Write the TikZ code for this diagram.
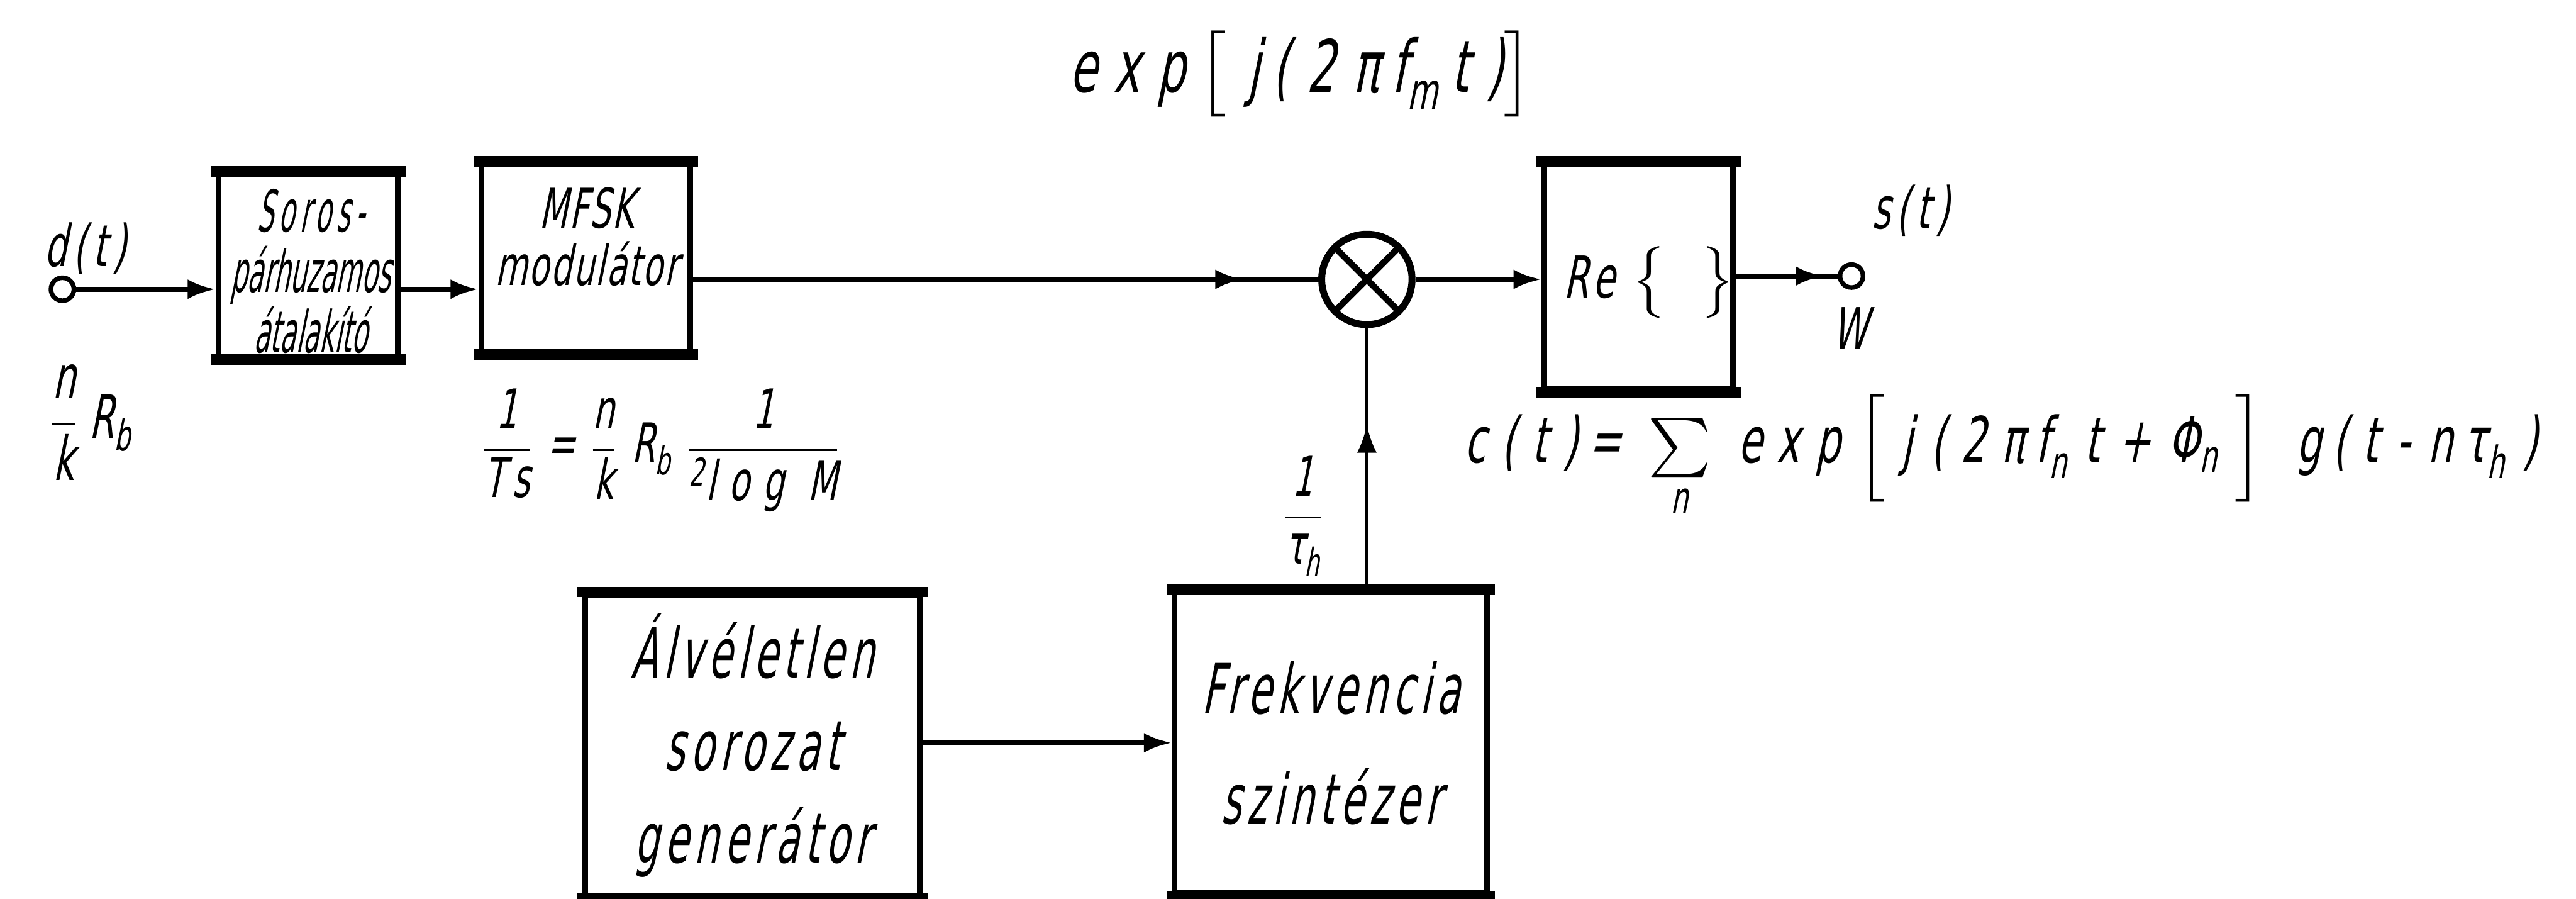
\documentclass[tikz,border=0pt]{standalone}
\usepackage{amsmath}
\usepackage{fontspec}
\setmainfont{DejaVu Sans}[FakeSlant=0.2,FakeStretch=0.6,LetterSpace=3]
\newfontfamily\handA{DejaVu Sans}[FakeSlant=0.2,FakeStretch=0.6,LetterSpace=3]
\newfontfamily\handN{DejaVu Sans}[FakeSlant=0.2,FakeStretch=0.45]
\newfontfamily\handW{DejaVu Sans}[FakeSlant=0.2,FakeStretch=0.62,LetterSpace=10]
\newfontfamily\handB{DejaVu Sans}[FakeSlant=0.2,FakeStretch=0.56,LetterSpace=8]
\newfontfamily\handF{DejaVu Sans}[FakeSlant=0.2,FakeStretch=0.62,LetterSpace=24]
\usetikzlibrary{arrows.meta,decorations.markings}
\begin{document}
\begin{tikzpicture}[x=0.02cm,y=-0.02cm,
  blk/.style={draw, line width=2pt, inner sep=0pt, align=center},
  thickedge/.style={line width=3.6pt, line cap=rect},
  conn/.style={line width=1.8pt},
  thinconn/.style={line width=1.1pt},
  tip/.style={-{Latex[length=0.34cm,width=0.24cm]}},
  midtip/.style={postaction={decorate},decoration={markings,mark=at position #1 with {\arrow{Latex[length=0.34cm,width=0.24cm]}}}},
  term/.style={circle, draw, line width=1.6pt, minimum size=0.28cm, inner sep=0pt},
  mixer/.style={circle, draw, line width=2.4pt, minimum size=1.1cm, inner sep=0pt,
    path picture={\draw[line width=2.2pt] (path picture bounding box.north west) -- (path picture bounding box.south east)
      (path picture bounding box.north east) -- (path picture bounding box.south west);}},
  lbl/.style={inner sep=0pt, align=center}
]
\useasboundingbox (0,0) rectangle (1568,547);
% blocks
\node[term] (in) at (38,176) {};
\node[blk, minimum width=2.18cm, minimum height=2.22cm] (sp) at (187.5,161.5) {};
\node[lbl, font={\handN\fontsize{20}{21}\selectfont}] (spT) at (189,165)
  {{\addfontfeature{LetterSpace=9}Soros-}\\párhuzamos\\átalakító};
\node[blk, minimum width=2.54cm, minimum height=2.28cm] (mfsk) at (356.5,157) {};
\node[lbl, font={\handA\fontsize{19}{20}\selectfont}] (mfskT) at (357,144) {MFSK\\modulátor};
\node[mixer] (mix) at (832,170) {};
\node[blk, minimum width=2.3cm, minimum height=2.74cm] (re) at (997.5,168.5) {};
\node[lbl, font={\handW\fontsize{20}{20}\selectfont}] (reT) at (1004,172) {Re $\big\{\;\;\big\}$};
\node[term] (out) at (1127,168) {};
\node[blk, minimum width=4.08cm, minimum height=3.66cm, font={\handB\fontsize{24}{32}\selectfont}] (alv) at (458,453.5) {Álvéletlen\\sorozat\\generátor};
\node[blk, minimum width=3.8cm, minimum height=3.66cm, font={\handB\fontsize{24}{38}\selectfont}] (frek) at (810,452) {Frekvencia\\szintézer};
% thick top/bottom edges
\foreach \b in {sp,mfsk,re,alv,frek}
  \draw[thickedge] (\b.north west) -- (\b.north east) (\b.south west) -- (\b.south east);
% connectors
\draw[conn,tip] (in) -- (in -| sp.west);
\draw[conn,tip] (in -| sp.east) -- (in -| mfsk.west);
\draw[conn,midtip=0.88] (mix -| mfsk.east) -- (mix.west);
\draw[conn,tip] (mix.east) -- (mix -| re.west);
\draw[conn,midtip=0.86] (out -| re.east) -- (out.west);
\draw[thinconn,midtip=0.63] (mix |- frek.north) -- (mix.south);
\draw[conn,tip] (frek -| alv.east) -- (frek.west);
% labels
\node[lbl, font={\handW\fontsize{20}{22}\selectfont}] (dt) at (52,151) {d(t)};
\node[lbl, font={\handA\fontsize{21}{22}\selectfont}] (nk) at (55,257) {$\dfrac{\text{n}}{\text{k}}\,\text{R}_{\text{b}}$};
\node[lbl, font={\handW\fontsize{20}{20}\selectfont}] (st) at (1163,128) {s(t)};
\node[lbl, font={\handW\fontsize{20}{20}\selectfont}] (w) at (1126,200) {W};
\node[lbl, font={\handF\fontsize{25}{20}\selectfont}] (expl) at (792,45) {$\text{exp}\left[\rule[-0.3cm]{0pt}{0.6cm}\;\text{j\,(2π\,f}_{\text{m}}\,\text{t)}\right]$};
\node[lbl, font={\handF\fontsize{19}{20}\selectfont}] (ts) at (402,274) {$\dfrac{\text{1}}{\text{Ts}}\;\text{=}\;\dfrac{\text{n}}{\text{k}}\;\text{R}_{\text{b}}\;\dfrac{\text{1}}{{}^{\text{2}}\text{log M}}$};
\node[lbl, font={\handA\fontsize{19}{20}\selectfont}] (tau) at (793,314) {$\dfrac{\text{1}}{\text{τ}_{\text{h}}}$};
\node[lbl, font={\handF\fontsize{22}{20}\selectfont}] (ct) at (1218,278) {$\text{c(t)\,=}\;\sum\limits_{\text{n}}\;\text{exp}\;\Big[\;\text{j\;(2π\,f}_{\text{n}}\;\text{t\;+\;Φ}_{\text{n}}\;\Big]\;\;\text{g\,(t\;-\;n\,τ}_{\text{h}}\;\text{)}$};
\end{tikzpicture}
\end{document}
